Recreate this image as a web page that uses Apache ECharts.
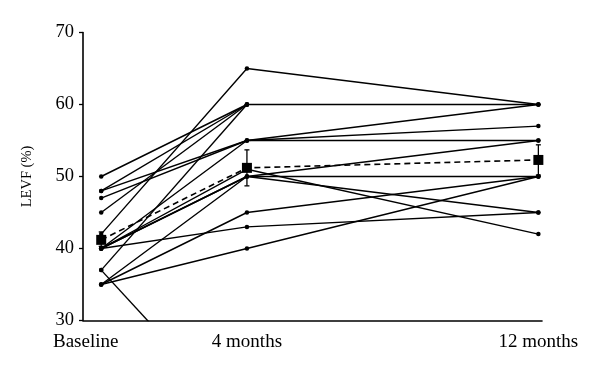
<!DOCTYPE html>
<html>
<head>
<meta charset="utf-8">
<script src="https://cdn.jsdelivr.net/npm/echarts@6/dist/echarts.min.js"></script>
<style>
  html, body { margin: 0; padding: 0; background: #fff; }
  #chart { width: 600px; height: 372px; }
</style>
</head>
<body>
<div id="chart"></div>
<script>
// Time points (months) and their tick labels
const xMonths = [0, 4, 12];
const xTickLabels = ['Baseline', '4 months', '12 months'];
const yTicks = [30, 40, 50, 60, 70];

// Individual patient LVEF (%) at each time point (null = no measurement)
const baseline = [50, 48, 48, 47, 45, 42, 40, 40, 40, 40, 40, 37, 37, 35, 35, 35];
const month4   = [60, 60, 55, 55, 60, 65, 55, 50, 51, 50, 43, 60, 15, 50, 45, 40];
const month12  = [60, null, 57, 55, null, 60, 60, 55, 42, 45, 45, null, null, 50, 50, 50];

// Group mean with error bars
const meanValues = [41.2, 51.2, 52.3];
const meanLow    = [40.3, 48.7, 50.2];
const meanHigh   = [42.3, 53.7, 54.4];

const FONT = '"Liberation Serif", "Times New Roman", serif';

const chart = echarts.init(document.getElementById('chart'), null, { renderer: 'canvas' });

const series = [];
baseline.forEach(function (b, i) {
  const vals = [b, month4[i], month12[i]];
  const data = [];
  vals.forEach(function (v, k) { if (v !== null) data.push([xMonths[k], v]); });
  const offChart = vals.some(function (v) { return v !== null && v < yTicks[0]; });
  series.push({
    type: 'line',
    data: data,
    symbol: 'circle',
    symbolSize: 4.5,
    clip: offChart,
    itemStyle: { color: '#000' },
    lineStyle: { color: '#000', width: 1.4 },
    emphasis: { disabled: true },
    z: 2
  });
});

series.push({
  type: 'custom',
  data: xMonths.map(function (t, k) { return [t, meanLow[k], meanHigh[k]]; }),
  renderItem: function (params, api) {
    const x = api.value(0);
    const lo = api.coord([x, api.value(1)]);
    const hi = api.coord([x, api.value(2)]);
    const w = 2.5;
    const st = { stroke: '#000', lineWidth: 1.3 };
    return {
      type: 'group',
      children: [
        { type: 'line', shape: { x1: lo[0], y1: lo[1], x2: hi[0], y2: hi[1] }, style: st },
        { type: 'line', shape: { x1: lo[0] - w, y1: lo[1], x2: lo[0] + w, y2: lo[1] }, style: st },
        { type: 'line', shape: { x1: hi[0] - w, y1: hi[1], x2: hi[0] + w, y2: hi[1] }, style: st }
      ]
    };
  },
  z: 5
});

series.push({
  type: 'line',
  data: xMonths.map(function (t, k) { return [t, meanValues[k]]; }),
  symbol: 'rect',
  symbolSize: 10,
  clip: false,
  itemStyle: { color: '#000' },
  lineStyle: { color: '#000', width: 1.6, type: [6, 4] },
  z: 6
});

chart.setOption({
  animation: false,
  backgroundColor: '#fff',
  grid: { left: 83, right: 58, top: 32.5, bottom: 51.5, containLabel: false },
  xAxis: {
    type: 'value',
    min: -0.5,
    max: 12.1,
    splitLine: { show: false },
    axisLine: { show: true, onZero: false, lineStyle: { color: '#000', width: 1.6 } },
    axisTick: { show: false },
    axisLabel: {
      customValues: xMonths,
      margin: 12,
      color: '#000',
      fontFamily: FONT,
      fontSize: 19,
      formatter: function (v) {
        const k = xMonths.indexOf(v);
        if (k === 0) return '{b|' + xTickLabels[0] + '}';
        return k >= 0 ? xTickLabels[k] : '';
      },
      rich: {
        b: { fontFamily: FONT, fontSize: 19, color: '#000', padding: [0, 31, 0, 0] }
      }
    }
  },
  yAxis: {
    type: 'value',
    min: yTicks[0],
    max: yTicks[yTicks.length - 1],
    interval: 10,
    name: 'LEVF (%)',
    nameLocation: 'middle',
    nameRotate: 90,
    nameGap: 48,
    nameTextStyle: { color: '#000', fontFamily: FONT, fontSize: 14.5 },
    splitLine: { show: false },
    axisLine: { show: true, onZero: false, lineStyle: { color: '#000', width: 1.6 } },
    axisTick: { show: true, inside: false, length: 4, lineStyle: { color: '#000', width: 1.3 } },
    axisLabel: { color: '#000', fontFamily: FONT, fontSize: 18.5, margin: 9 }
  },
  series: series
});
</script>
</body>
</html>
